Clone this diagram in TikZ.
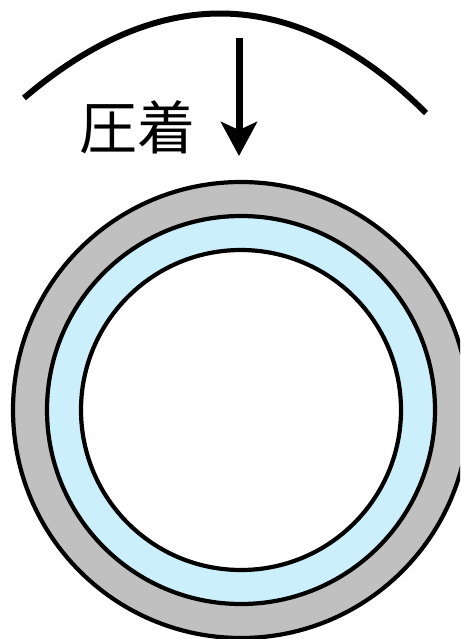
\documentclass[tikz,border=0pt]{standalone}
\usepackage{fontspec}
\newfontfamily\cjk{Noto Sans CJK JP}
\usetikzlibrary{arrows.meta}
\definecolor{ringgray}{RGB}{192,192,192}
\definecolor{ringblue}{RGB}{204,239,252}
\tikzset{
  ring/.style={draw=black, line width=4.2pt},
  pressarc/.style={draw=black, line width=6pt},
  pressarrow/.style={draw=black, line width=7pt, -{Stealth[length=34pt,width=36pt,inset=8pt]}},
  labeltext/.style={font=\cjk\fontsize{58}{58}\selectfont, inner sep=0pt}
}
\begin{document}
\begin{tikzpicture}[x=1pt,y=-1pt]
\useasboundingbox (0,0) rectangle (460,639);
\clip (0,0) rectangle (460,639);
\fill[white] (0,0) rectangle (460,639);
\coordinate (c) at (241,410);
\draw[ring, fill=ringgray] (c) circle[radius=228pt];
\draw[ring, fill=ringblue] (c) circle[radius=194pt];
\draw[ring, fill=white] (c) circle[radius=160pt];
\coordinate (arcl) at (24,98);
\coordinate (arcr) at (426,113);
\draw[pressarc] (arcl) .. controls (160,-18) and (296,-16) .. (arcr);
\coordinate (arrowtop) at (239,38);
\coordinate (arrowtip) at (239,156);
\draw[pressarrow] (arrowtop) -- (arrowtip);
\node[labeltext] (label) at (137,127) {圧着};
\end{tikzpicture}
\end{document}
